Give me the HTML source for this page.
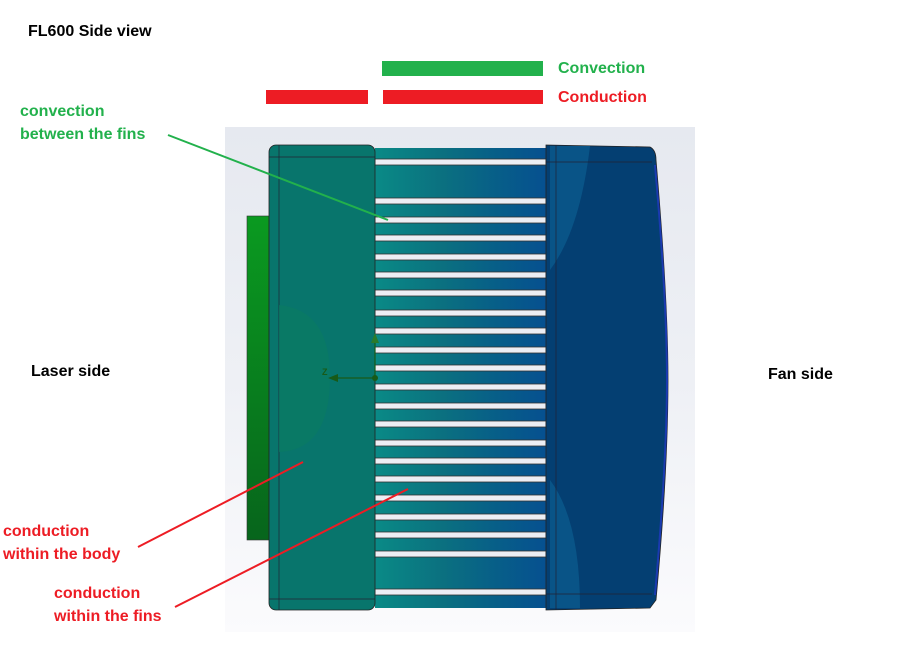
<!DOCTYPE html>
<html><head><meta charset="utf-8"><style>
body{margin:0;width:900px;height:646px;background:#fff;position:relative;overflow:hidden;font-family:"Liberation Sans",sans-serif;font-weight:bold}
.t{position:absolute;font-size:16px;line-height:23px;white-space:nowrap}
.g{color:#22b14c}.r{color:#ed1c24}
</style></head><body>
<svg width="900" height="646" style="position:absolute;left:0;top:0">
<defs>
<linearGradient id="bg" x1="0" y1="0" x2="0" y2="1"><stop offset="0" stop-color="#e6e9f0"/><stop offset="0.5" stop-color="#eef0f5"/><stop offset="1" stop-color="#fbfbfd"/></linearGradient>
<linearGradient id="fin" x1="0" y1="0" x2="1" y2="0"><stop offset="0" stop-color="#0a8a86"/><stop offset="0.4" stop-color="#0b7080"/><stop offset="0.7" stop-color="#075f88"/><stop offset="1" stop-color="#065090"/></linearGradient>
<linearGradient id="pl" x1="0" y1="0" x2="0" y2="1"><stop offset="0" stop-color="#0a9a20"/><stop offset="1" stop-color="#07651c"/></linearGradient>
</defs>
<rect x="225" y="127" width="470" height="505" fill="url(#bg)"/>
<rect x="247" y="216" width="23" height="324" fill="url(#pl)" stroke="#333" stroke-width="0.6"/>
<rect x="375" y="148" width="171" height="460" fill="url(#fin)"/>
<g fill="#eceef4" stroke="#333" stroke-width="0.8">
<rect x="375" y="159" width="171" height="6"/><rect x="375" y="198" width="171" height="6"/><rect x="375" y="217" width="171" height="6"/><rect x="375" y="235" width="171" height="6"/><rect x="375" y="254" width="171" height="6"/><rect x="375" y="272" width="171" height="6"/><rect x="375" y="290" width="171" height="6"/><rect x="375" y="310" width="171" height="6"/><rect x="375" y="328" width="171" height="6"/><rect x="375" y="347" width="171" height="6"/><rect x="375" y="365" width="171" height="6"/><rect x="375" y="384" width="171" height="6"/><rect x="375" y="403" width="171" height="6"/><rect x="375" y="421" width="171" height="6"/><rect x="375" y="440" width="171" height="6"/><rect x="375" y="458" width="171" height="6"/><rect x="375" y="476" width="171" height="6"/><rect x="375" y="495" width="171" height="6"/><rect x="375" y="514" width="171" height="6"/><rect x="375" y="532" width="171" height="6"/><rect x="375" y="551" width="171" height="6"/><rect x="375" y="589" width="171" height="6"/>
</g>
<rect x="269" y="145" width="106" height="465" rx="7" fill="#08756c" stroke="#222" stroke-width="0.8"/>
<line x1="279" y1="145" x2="279" y2="610" stroke="#223" stroke-width="0.7"/>
<line x1="269" y1="157" x2="375" y2="157" stroke="#223" stroke-width="0.7"/>
<line x1="269" y1="599" x2="375" y2="599" stroke="#223" stroke-width="0.7"/>
<path d="M279 305 Q330 310 330 377 Q330 450 279 452Z" fill="#0a7a62" opacity="0.7"/>
<path d="M546 145 L650 147 Q656 150 656 160 Q668 300 668 380 Q668 470 656 600 L650 608 L546 610Z" fill="#043f72" stroke="#222" stroke-width="0.8"/>
<path d="M550 146 L590 146 Q580 230 550 270Z" fill="#0b5a8c" opacity="0.8"/>
<path d="M550 480 Q580 520 580 608 L550 608Z" fill="#0b5a8c" opacity="0.8"/>
<line x1="556" y1="145" x2="556" y2="610" stroke="#223" stroke-width="0.7"/>
<line x1="546" y1="162" x2="652" y2="162" stroke="#223" stroke-width="0.7"/>
<line x1="546" y1="594" x2="652" y2="594" stroke="#223" stroke-width="0.7"/>
<path d="M655 165 Q667 300 667 380 Q667 460 655 595" fill="none" stroke="#1a3ab0" stroke-width="2"/>
<line x1="375" y1="378" x2="375" y2="335" stroke="#185a18" stroke-width="1.2"/>
<polygon points="375,333 371,343 379,343" fill="#2a7a2a"/>
<line x1="375" y1="378" x2="330" y2="378" stroke="#185a18" stroke-width="1.2"/>
<polygon points="328,378 338,374 338,382" fill="#185a18"/>
<circle cx="375" cy="378" r="3" fill="#185a18"/>
<text x="322" y="375" font-size="9" fill="#185a18" font-family="Liberation Sans">Z</text>
<rect x="382" y="61" width="161" height="15" fill="#22b14c"/>
<rect x="266" y="90" width="102" height="14" fill="#ed1c24"/>
<rect x="383" y="90" width="160" height="14" fill="#ed1c24"/>
<line x1="168" y1="135" x2="388" y2="220" stroke="#22b14c" stroke-width="2"/>
<line x1="138" y1="547" x2="303" y2="462" stroke="#ed1c24" stroke-width="2"/>
<line x1="175" y1="607" x2="408" y2="489" stroke="#ed1c24" stroke-width="2"/>
</svg>
<div class="t" style="left:28px;top:20px;color:#000">FL600 Side view</div>
<div class="t g" style="left:558px;top:57px">Convection</div>
<div class="t r" style="left:558px;top:86px">Conduction</div>
<div class="t g" style="left:20px;top:100px">convection<br>between the fins</div>
<div class="t" style="left:31px;top:360px;color:#000">Laser side</div>
<div class="t" style="left:768px;top:363px;color:#000">Fan side</div>
<div class="t r" style="left:3px;top:520px">conduction<br>within the body</div>
<div class="t r" style="left:54px;top:582px">conduction<br>within the fins</div>
</body></html>
